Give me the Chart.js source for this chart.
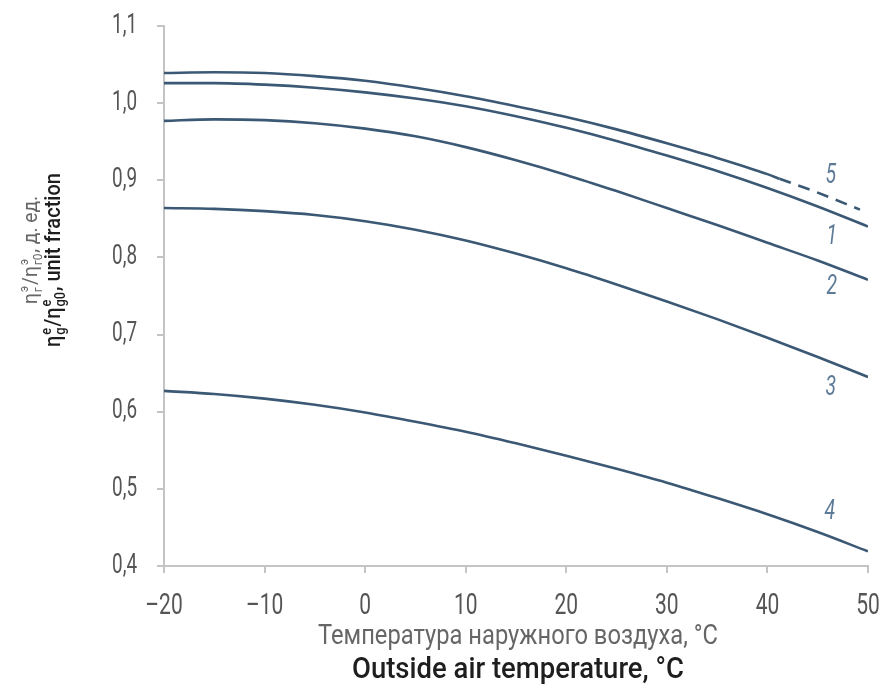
<!DOCTYPE html>
<html>
<head>
<meta charset="utf-8">
<script src="https://cdn.jsdelivr.net/npm/chart.js@4.4.1/dist/chart.umd.min.js"></script>
<style>
  html, body { margin: 0; padding: 0; background: #fff; }
  #wrap { width: 880px; height: 694px; }
</style>
</head>
<body>
<div id="wrap"><canvas id="myChart" width="880" height="694"></canvas></div>
<script>
// Temperatura exterior, °C
const temps = [-20, -15, -10, -5, 0, 5, 10, 15, 20, 25, 30, 35, 40, 45, 50];

// Curvas 1..4
const curve1 = [1.026, 1.026, 1.024, 1.020, 1.014, 1.006, 0.996, 0.983, 0.968, 0.951, 0.932, 0.912, 0.890, 0.866, 0.840];
const curve2 = [0.977, 0.979, 0.978, 0.974, 0.967, 0.957, 0.943, 0.926, 0.907, 0.886, 0.864, 0.842, 0.819, 0.796, 0.771];
const curve3 = [0.864, 0.863, 0.860, 0.855, 0.847, 0.836, 0.822, 0.805, 0.786, 0.765, 0.743, 0.720, 0.696, 0.671, 0.645];
const curve4 = [0.627, 0.623, 0.617, 0.609, 0.599, 0.587, 0.574, 0.559, 0.543, 0.526, 0.508, 0.488, 0.467, 0.444, 0.419];

// Curva 5: tramo continuo y tramo punteado
const temps5 = [-20, -15, -10, -5, 0, 5, 10, 15, 20, 25, 30, 35, 40, 41.2];
const curve5 = [1.039, 1.040, 1.039, 1.035, 1.029, 1.020, 1.009, 0.996, 0.982, 0.966, 0.948, 0.929, 0.908, 0.902];
const temps5dash = [41.2, 45, 49.2];
const curve5dash = [0.902, 0.884, 0.862];

// Etiquetas de las curvas (número, temperatura, valor)
const curveNames = ['5', '1', '2', '3', '4'];
const nameTemps = [46.3, 46.4, 46.4, 46.3, 46.2];
const nameValues = [0.905, 0.826, 0.761, 0.631, 0.470];

const xTicks = [-20, -10, 0, 10, 20, 30, 40, 50];
const yTicks = [0.4, 0.5, 0.6, 0.7, 0.8, 0.9, 1.0, 1.1];

const lineColor = '#3b5874';
const labelColor = '#5d7a96';
const fam = 'Roboto, "DejaVu Sans", sans-serif';

function pts(xs, ys) {
    return xs.map((x, i) => ({ x: x, y: ys[i] }));
}

function serie(xs, ys, dash) {
    return {
        data: pts(xs, ys),
        borderColor: lineColor,
        borderWidth: 2.6,
        borderDash: dash || [],
        pointRadius: 0,
        fill: false,
        cubicInterpolationMode: 'monotone'
    };
}

// Texto "condensado": se comprime horizontalmente con sx
// (si fit > 0, sx se calcula para que el texto mida fit px)
function narrowText(ctx, text, x, y, font, sx, align, color, fit) {
    ctx.save();
    ctx.font = font;
    ctx.fillStyle = color;
    ctx.textBaseline = 'middle';
    ctx.textAlign = 'left';
    const raw = ctx.measureText(text).width;
    if (fit) sx = fit / raw;
    const w = raw * sx;
    let x0 = x;
    if (align === 'center') x0 = x - w / 2;
    if (align === 'right') x0 = x - w;
    ctx.translate(x0, y);
    ctx.scale(sx, 1);
    ctx.fillText(text, 0, 0);
    ctx.restore();
}

// Texto con super/subíndices apilados (sin escala)
function richWidth(ctx, parts, size, weight) {
    let w = 0;
    for (const p of parts) {
        if (typeof p === 'string') {
            ctx.font = weight + ' ' + size + 'px ' + fam;
            w += ctx.measureText(p).width;
        } else {
            ctx.font = weight + ' ' + Math.round(size * 0.62) + 'px ' + fam;
            w += Math.max(ctx.measureText(p.sup).width, ctx.measureText(p.sub).width) + 2;
        }
    }
    return w;
}

function richText(ctx, parts, size, weight, color) {
    ctx.fillStyle = color;
    ctx.textBaseline = 'alphabetic';
    ctx.textAlign = 'left';
    let cx = 0;
    for (const p of parts) {
        if (typeof p === 'string') {
            ctx.font = weight + ' ' + size + 'px ' + fam;
            ctx.fillText(p, cx, 0);
            cx += ctx.measureText(p).width;
        } else {
            ctx.font = weight + ' ' + Math.round(size * 0.62) + 'px ' + fam;
            ctx.fillText(p.sup, cx + 1, -size * 0.42);
            ctx.fillText(p.sub, cx + 1, size * 0.24);
            cx += Math.max(ctx.measureText(p.sup).width, ctx.measureText(p.sub).width) + 2;
        }
    }
}

// Dibuja la línea girada, centrada en (x, cy) con longitud total len
function rotatedRich(ctx, parts, x, cy, size, weight, color, len) {
    const w = richWidth(ctx, parts, size, weight);
    const sx = len / w;
    ctx.save();
    ctx.translate(x, cy);
    ctx.rotate(-Math.PI / 2);
    ctx.translate(-len / 2, 0);
    ctx.scale(sx, 1);
    richText(ctx, parts, size, weight, color);
    ctx.restore();
}

const yTitleRu = ['η', { sup: 'э', sub: 'г' }, '/η', { sup: 'э', sub: 'г0' }, ', д. ед.'];
const yTitleEn = ['η', { sup: 'e', sub: 'g' }, '/η', { sup: 'e', sub: 'g0' }, ', unit fraction'];

const extras = {
    id: 'extras',
    afterDraw(chart) {
        const ctx = chart.ctx;
        const xs = chart.scales.x;
        const ys = chart.scales.y;

        // etiquetas de los ejes
        xTicks.forEach(v => {
            const t = v < 0 ? '\u2013' + Math.abs(v) : '' + v;
            narrowText(ctx, t, xs.getPixelForValue(v), 606, '30px ' + fam, 0.70, 'center', '#555');
        });
        yTicks.forEach(v => {
            const t = v.toFixed(1).replace('.', ',');
            narrowText(ctx, t, 137, ys.getPixelForValue(v), '27px ' + fam, 0.70, 'right', '#555');
        });

        // números de las curvas
        curveNames.forEach((n, i) => {
            narrowText(ctx, n, xs.getPixelForValue(nameTemps[i]), ys.getPixelForValue(nameValues[i]),
                'italic 27px ' + fam, 0.72, 'center', labelColor);
        });

        // título eje X
        const cxm = (chart.chartArea.left + chart.chartArea.right) / 2 + 2;
        narrowText(ctx, 'Температура наружного воздуха, °C', cxm, 637, '28px ' + fam, 0, 'center', '#666', 400);
        narrowText(ctx, 'Outside air temperature, °C', cxm, 670, '500 30px ' + fam, 0, 'center', '#1e1e1e', 332);

        // título eje Y (girado)
        rotatedRich(ctx, yTitleRu, 37, 250, 21, 'normal', '#666', 108);
        rotatedRich(ctx, yTitleEn, 60, 260, 22, '500', '#1e1e1e', 174);
    }
};

const ctx = document.getElementById('myChart').getContext('2d');
const myChart = new Chart(ctx, {
    type: 'line',
    data: {
        datasets: [
            serie(temps5, curve5),
            serie(temps5dash, curve5dash, [12, 8]),
            serie(temps, curve1),
            serie(temps, curve2),
            serie(temps, curve3),
            serie(temps, curve4)
        ]
    },
    options: {
        responsive: false,
        animation: false,
        layout: { padding: { top: 26, right: 12, left: 0, bottom: 0 } },
        plugins: {
            legend: { display: false },
            tooltip: { enabled: false }
        },
        scales: {
            x: {
                type: 'linear',
                min: -20,
                max: 50,
                afterFit: s => { s.height = 128; },
                afterBuildTicks: s => { s.ticks = xTicks.map(v => ({ value: v })); },
                ticks: { display: false },
                grid: { drawOnChartArea: false, drawTicks: true, tickLength: 7, color: '#c4c4c4', lineWidth: 2 },
                border: { display: true, color: '#c4c4c4', width: 2 }
            },
            y: {
                type: 'linear',
                min: 0.4,
                max: 1.1,
                afterFit: s => { s.width = 164; },
                afterBuildTicks: s => { s.ticks = yTicks.map(v => ({ value: v })); },
                ticks: { display: false },
                grid: { drawOnChartArea: false, drawTicks: true, tickLength: 7, color: '#c4c4c4', lineWidth: 2 },
                border: { display: true, color: '#c4c4c4', width: 2 }
            }
        }
    },
    plugins: [extras]
});
</script>
</body>
</html>
